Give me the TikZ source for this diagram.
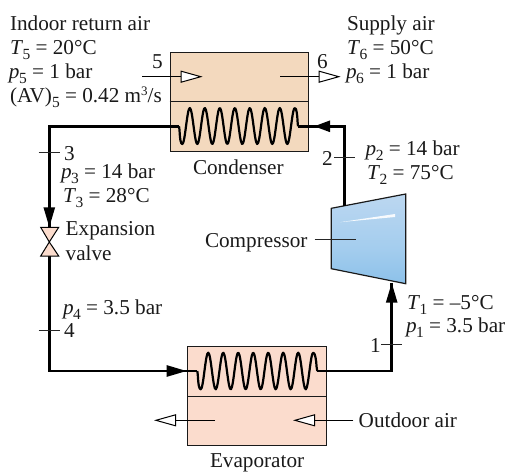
\documentclass[tikz,border=0pt]{standalone}
\usepackage{fontspec}
\setmainfont{Liberation Serif}
\usetikzlibrary{arrows.meta}
\definecolor{condfill}{HTML}{F3D9BE}
\definecolor{evapfill}{HTML}{FBDCCD}
\definecolor{ink}{HTML}{1A1A1A}
\definecolor{cshA}{HTML}{7FBBE6}
\definecolor{cshB}{HTML}{A6CFEE}
\definecolor{cshC}{HTML}{84BDE8}
\definecolor{cshD}{HTML}{A4CDEE}
\definecolor{cshE}{HTML}{C0D9F1}
\definecolor{cshF}{HTML}{C6DCF2}
\pgfdeclareverticalshading{compshade}{100bp}{
  color(0bp)=(cshA);
  color(6bp)=(cshB);
  color(18bp)=(cshC);
  color(45bp)=(cshD);
  color(80bp)=(cshE);
  color(100bp)=(cshF)}
\newcommand{\vrb}[2]{\textit{#1}\kern-0.5pt\raisebox{-5pt}{\fontsize{15.5}{15.5}\selectfont #2}}
\tikzset{
  x=1pt,y=-1pt,
  lab/.style={anchor=base west,inner sep=0pt,outer sep=0pt,font=\fontsize{21.2}{24}\selectfont,text=ink},
  boxs/.style={draw=ink,line width=1pt},
  pipe/.style={draw=black,line width=2.5pt,line join=miter},
  coil/.style={draw=black,line width=2.2pt,line join=round},
  tick/.style={draw=black!85,line width=0.9pt},
  air/.style={draw=black,line width=1.5pt,-{Triangle[open,fill=white,length=22pt,width=12pt,line width=1pt]}},
  solidhead/.style={draw=black,line width=2.5pt,-{Triangle[length=20pt,width=11pt]}},
  shorthead/.style={draw=black,line width=2.5pt,-{Triangle[length=16pt,width=11pt]}},
  valveshape/.style={draw=black,fill=evapfill,line width=1pt,line join=miter},
}
\begin{document}
\begin{tikzpicture}
\useasboundingbox (0,0) rectangle (508,471);
% boxes
\node[boxs,fill=condfill,anchor=north west,minimum width=138.5pt,minimum height=99pt,inner sep=0pt] (cond) at (169.5,52) {};
\node[boxs,fill=evapfill,anchor=north west,minimum width=139pt,minimum height=99.3pt,inner sep=0pt] (evap) at (187.3,345.7) {};
\coordinate (cd1) at (169.5,101.7); \coordinate (cd2) at (308,101.7);
\coordinate (ed1) at (187.3,396); \coordinate (ed2) at (326.3,396);
\draw[boxs] (cd1) -- (cd2);
\draw[boxs] (ed1) -- (ed2);
% compressor
\begin{scope}
\clip (331.3,208.3) -- (405.7,194) -- (405.7,283.7) -- (331.3,268.7) -- cycle;
\shade[shading=compshade] (331.3,194) rectangle (405.7,283.7);
\fill[white,opacity=0.9] (340,222.2) -- (395,214) -- (395,217) -- cycle;
\end{scope}
\draw[boxs,line width=1.2pt,line join=miter] (331.3,208.3) -- (405.7,194) -- (405.7,283.7) -- (331.3,268.7) -- cycle;
% pipes: coordinates
\coordinate (c3) at (179,126.3);
\coordinate (c2) at (298,126.3);
\coordinate (cc) at (49.3,126.3);
\coordinate (v1) at (49.3,227.3);
\coordinate (vm) at (49.3,242);
\coordinate (v2) at (49.3,256);
\coordinate (ec) at (49.3,371);
\coordinate (e4) at (197.3,371);
\coordinate (e1) at (317.3,371);
\coordinate (cin) at (391.7,371);
\coordinate (ctip) at (391.7,282.7);
\coordinate (top) at (344.7,126.3);
\coordinate (cout) at (344.7,206);
% condenser coil
\draw[coil] (c3) -- (179.5,130) .. controls (180,140) and (180.8,144) .. (182.3,144)
  -- plot[domain=182.3:295,samples=120,smooth] (\x,{126+18*cos(24*(\x-182.3))})
  .. controls (296.5,108) and (297.3,115) .. (297.6,122) -- (c2);
% evaporator coil
\draw[coil] (e4) -- (197.8,375) .. controls (198.3,385) and (199.2,389.3) .. (200.7,389.3)
  -- plot[domain=200.7:313.4,samples=120,smooth] (\x,{371+18.3*cos(24*(\x-200.7))})
  .. controls (315,352.7) and (316.3,360) .. (316.6,367) -- (e1);
% pipes
\draw[pipe] (c3) -- (cc) -- (v1);
\draw[pipe] (v2) -- (ec) -- (e4);
\draw[pipe] (e1) -- (cin) -- (ctip);
\draw[pipe] (cout) -- (top) -- (c2);
% arrowheads on pipes
\coordinate (ha1) at (49.3,205); 
\draw[solidhead] (ha1) -- (v1);
\coordinate (ha2a) at (160,371); \coordinate (ha2) at (186.7,371);
\draw[solidhead] (ha2a) -- (ha2);
\coordinate (ha3a) at (391.7,310);
\draw[solidhead] (ha3a) -- (ctip);
\coordinate (ha4a) at (338,126.3); \coordinate (ha4) at (314,126.3);
\draw[shorthead] (ha4a) -- (ha4);
% valve
\coordinate (vtl) at (40.7,227.3); \coordinate (vtr) at (58.7,227.3);
\coordinate (vbl) at (40.7,256); \coordinate (vbr) at (58.7,256);
\draw[valveshape] (vtl) -- (vtr) -- (vm) -- cycle;
\draw[valveshape] (vbl) -- (vbr) -- (vm) -- cycle;
% air
\coordinate (a5s) at (142,76.7); \coordinate (a5e) at (202.7,76.7);
\coordinate (a6s) at (280,76.7); \coordinate (a6e) at (340.7,76.7);
\coordinate (a7s) at (215,420.3); \coordinate (a7e) at (154,420.3);
\coordinate (a8s) at (353.3,420.3); \coordinate (a8e) at (293,420.3);
\draw[air] (a5s) -- (a5e);
\draw[air] (a6s) -- (a6e);
\draw[air] (a7s) -- (a7e);
\draw[air] (a8s) -- (a8e);
% ticks
\coordinate (t1a) at (381.3,344.7); \coordinate (t1b) at (402.3,344.7);
\coordinate (t2a) at (334,157.7); \coordinate (t2b) at (355,157.7);
\coordinate (t3a) at (38.7,152.7); \coordinate (t3b) at (60,152.7);
\coordinate (t4a) at (38.7,330.3); \coordinate (t4b) at (60,330.3);
\coordinate (tca) at (314.7,239); \coordinate (tcb) at (355.7,239);
\draw[tick] (t1a) -- (t1b);
\draw[tick] (t2a) -- (t2b);
\draw[tick] (t3a) -- (t3b);
\draw[tick] (t4a) -- (t4b);
\draw[tick] (tca) -- (tcb);
% labels
\node[lab] (l01) at (10,30) {Indoor return air};
\node[lab] (l02) at (10,54) {\vrb{T}{5} = 20°C};
\node[lab] (l03) at (9,78) {\vrb{p}{5} = 1 bar};
\node[lab] (l04) at (10,102) {(AV)\raisebox{-5pt}{\fontsize{15.5}{15.5}\selectfont 5} = 0.42 m\raisebox{7pt}{\fontsize{13}{13}\selectfont 3}/s};
\node[lab] (l05) at (152,68) {5};
\node[lab] (l06) at (317,68) {6};
\node[lab] (l07) at (193,174) {Condenser};
\node[lab] (l08) at (347,30) {Supply air};
\node[lab] (l09) at (347,54) {\vrb{T}{6} = 50°C};
\node[lab] (l10) at (346,78) {\vrb{p}{6} = 1 bar};
\node[lab] (l11) at (365.7,155) {\vrb{p}{2} = 14 bar};
\node[lab] (l12) at (367,179) {\vrb{T}{2} = 75°C};
\node[lab] (l13) at (322,165) {2};
\node[lab] (l14) at (64,160) {3};
\node[lab] (l15) at (61,178) {\vrb{p}{3} = 14 bar};
\node[lab] (l16) at (63,202) {\vrb{T}{3} = 28°C};
\node[lab] (l17) at (65.7,235.7) {Expansion};
\node[lab] (l18) at (65.7,260) {valve};
\node[lab] (l19) at (205,247) {Compressor};
\node[lab] (l20) at (63,314) {\vrb{p}{4} = 3.5 bar};
\node[lab] (l21) at (64,337) {4};
\node[lab] (l22) at (370,352) {1};
\node[lab] (l23) at (407,309) {\vrb{T}{1} = –5°C};
\node[lab] (l24) at (406,332.7) {\vrb{p}{1} = 3.5 bar};
\node[lab] (l25) at (358.7,427.7) {Outdoor air};
\node[lab] (l26) at (210,467.7) {Evaporator};
\end{tikzpicture}
\end{document}
